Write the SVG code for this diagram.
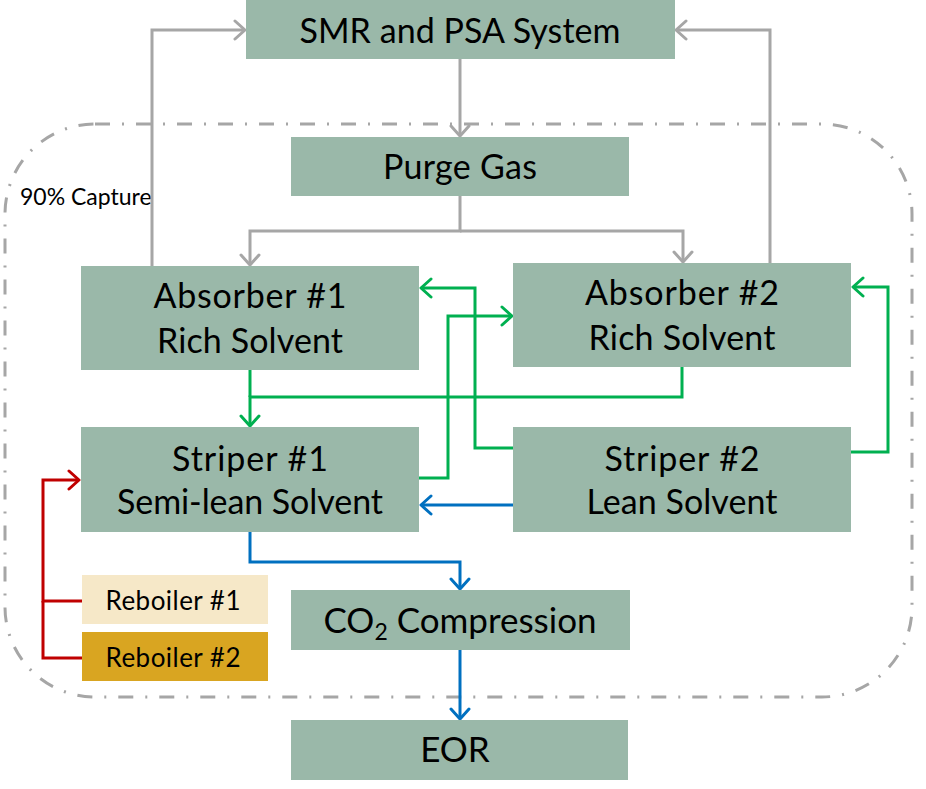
<svg xmlns="http://www.w3.org/2000/svg" width="926" height="789" viewBox="0 0 926 789">
<style>
.box{fill:#9AB8A9}
.t{font-family:Lato,"Open Sans","Liberation Sans",sans-serif;font-size:34px;fill:#000;text-anchor:middle}
.s{font-family:Lato,"Open Sans","Liberation Sans",sans-serif;font-size:26px;fill:#000;text-anchor:middle}
.g{fill:none;stroke:#A6A6A6;stroke-width:3}
.gr{fill:none;stroke:#00B050;stroke-width:3}
.bl{fill:none;stroke:#0070C0;stroke-width:3}
.rd{fill:none;stroke:#C00000;stroke-width:3}
</style>
<defs>
<marker id="ag" markerUnits="userSpaceOnUse" markerWidth="16" markerHeight="22" refX="13" refY="11" orient="auto" viewBox="0 0 16 22"><path d="M3,2 L13,11 L3,20" fill="none" stroke="#A6A6A6" stroke-width="3" stroke-linecap="round" stroke-linejoin="round"/></marker>
<marker id="agr" markerUnits="userSpaceOnUse" markerWidth="16" markerHeight="22" refX="13" refY="11" orient="auto" viewBox="0 0 16 22"><path d="M3,2 L13,11 L3,20" fill="none" stroke="#00B050" stroke-width="3" stroke-linecap="round" stroke-linejoin="round"/></marker>
<marker id="abl" markerUnits="userSpaceOnUse" markerWidth="16" markerHeight="22" refX="13" refY="11" orient="auto" viewBox="0 0 16 22"><path d="M3,2 L13,11 L3,20" fill="none" stroke="#0070C0" stroke-width="3" stroke-linecap="round" stroke-linejoin="round"/></marker>
<marker id="ard" markerUnits="userSpaceOnUse" markerWidth="16" markerHeight="22" refX="13" refY="11" orient="auto" viewBox="0 0 16 22"><path d="M3,2 L13,11 L3,20" fill="none" stroke="#C00000" stroke-width="3" stroke-linecap="round" stroke-linejoin="round"/></marker>
</defs>
<g id="capture-boundary">
<rect x="5" y="124" width="907" height="573" rx="90" ry="90" fill="none" stroke="#A6A6A6" stroke-width="3" stroke-dasharray="15 12 2 12"/>
<text x="20" y="205" class="s" style="text-anchor:start;font-size:23px">90% Capture</text>
</g>
<g id="connectors">
<path class="g" d="M152,266 V30 H245" marker-end="url(#ag)"/>
<path class="g" d="M770,263 V30 H676" marker-end="url(#ag)"/>
<path class="g" d="M460,59 V136" marker-end="url(#ag)"/>
<path class="g" d="M460,196 V231 H250 V265" marker-end="url(#ag)"/>
<path class="g" d="M460,231 H683 V262" marker-end="url(#ag)"/>
<path class="gr" d="M682,367 V397 H250 V426" marker-end="url(#agr)"/>
<path class="gr" d="M250,370 V397"/>
<path class="gr" d="M513,448 H475 V288 H421" marker-end="url(#agr)"/>
<path class="gr" d="M419,478 H448 V316 H512" marker-end="url(#agr)"/>
<path class="gr" d="M851,452 H888 V287 H853" marker-end="url(#agr)"/>
<path class="bl" d="M513,505 H421" marker-end="url(#abl)"/>
<path class="bl" d="M250,532 V562 H460 V589" marker-end="url(#abl)"/>
<path class="bl" d="M460,650 V719" marker-end="url(#abl)"/>
<path class="rd" d="M82,601 H43 V480 H79" marker-end="url(#ard)"/>
<path class="rd" d="M82,658 H43 V601"/>
</g>
<g id="smr"><rect class="box" x="246" y="0" width="429" height="59"/><text class="t" x="460" y="43" textLength="321">SMR and PSA System</text></g>
<g id="purge"><rect class="box" x="291" y="137" width="338" height="59"/><text class="t" x="460" y="179" textLength="154">Purge Gas</text></g>
<g id="absorber1"><rect class="box" x="81" y="266" width="338" height="104"/><text class="t" x="250" y="308" textLength="193">Absorber #1</text><text class="t" x="250" y="353" textLength="186">Rich Solvent</text></g>
<g id="absorber2"><rect class="box" x="513" y="263" width="338" height="104"/><text class="t" x="682" y="305" textLength="194">Absorber #2</text><text class="t" x="682" y="350" textLength="187">Rich Solvent</text></g>
<g id="striper1"><rect class="box" x="81" y="427" width="338" height="105"/><text class="t" x="250" y="471" textLength="156">Striper #1</text><text class="t" x="250" y="514" textLength="266">Semi-lean Solvent</text></g>
<g id="striper2"><rect class="box" x="513" y="427" width="338" height="105"/><text class="t" x="682" y="471" textLength="155">Striper #2</text><text class="t" x="682" y="514" textLength="191">Lean Solvent</text></g>
<g id="co2"><rect class="box" x="291" y="590" width="339" height="60"/><text class="t" x="460" y="633" style="font-size:35px">CO<tspan font-size="23" dy="7">2</tspan><tspan dy="-7"> Compression</tspan></text></g>
<g id="eor"><rect class="box" x="291" y="720" width="337" height="60"/><text class="t" x="455" y="762" style="font-size:35px">EOR</text></g>
<g id="reboiler1"><rect x="82" y="575" width="186" height="49" fill="#F6E8C8"/><text class="s" x="173" y="610" textLength="135">Reboiler #1</text></g>
<g id="reboiler2"><rect x="82" y="632" width="186" height="49" fill="#D9A521"/><text class="s" x="173" y="667" textLength="135">Reboiler #2</text></g>
</svg>
